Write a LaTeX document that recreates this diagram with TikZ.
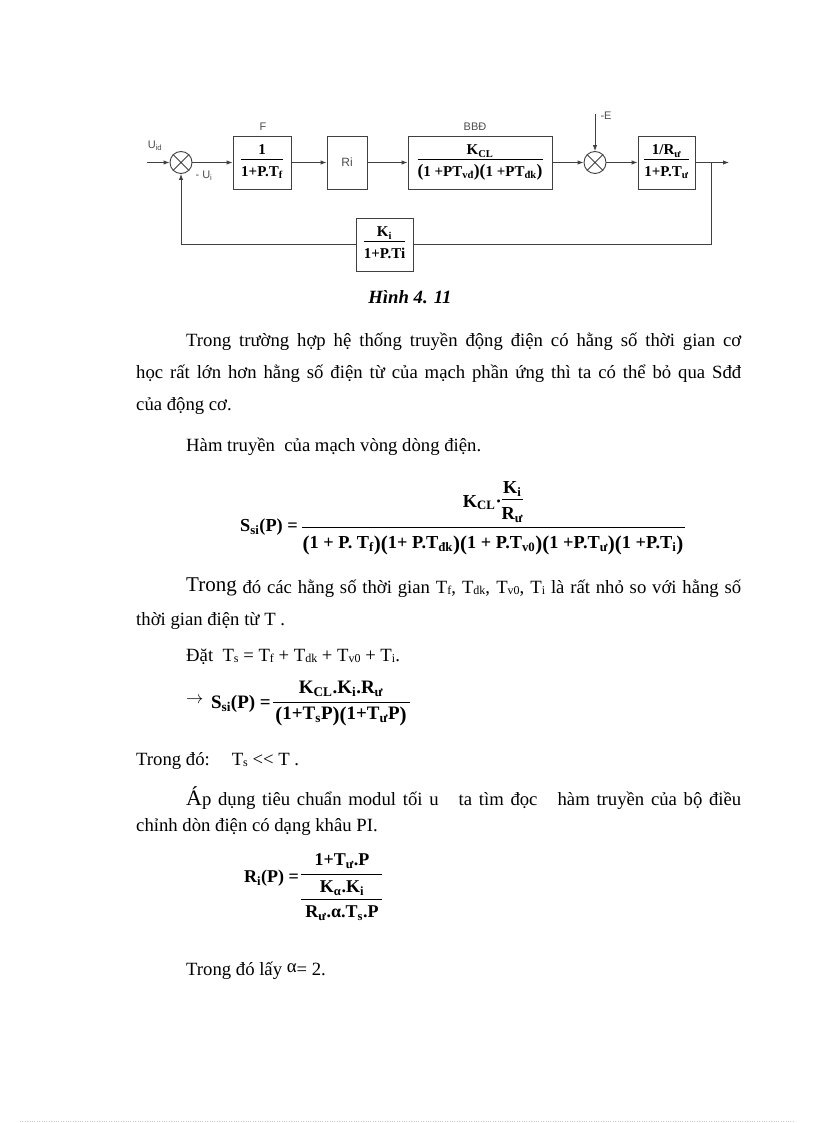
\documentclass[tikz,border=0pt]{standalone}
\usepackage{fontspec}
\setmainfont{Liberation Serif}
\newfontfamily\arialf{Liberation Sans}
\usetikzlibrary{arrows.meta}
\newcommand\fsz[1]{\fontsize{#1}{#1}\selectfont}
\newcommand\fr[2]{{\setlength\arrayrulewidth{0.8pt}\renewcommand\arraystretch{1.0}\begin{tabular}{@{}c@{}}#1\\\hline\rule{0pt}{1.05em}#2\end{tabular}}}
\newcommand\s[1]{\textsubscript{#1}}
\newcommand\sm[1]{\raisebox{-1pt}{\fsz{12}#1}}
\newcommand\bp[1]{{\fsz{21}\raisebox{-1.5pt}{#1}}}
\newcommand\bq[1]{{\fsz{17.5}\raisebox{-0.8pt}{#1}}}
\begin{document}
\begin{tikzpicture}[x=1pt,y=-1pt,
  blk/.style={draw=black!75, line width=0.9pt, inner sep=0pt, font=\bfseries\fsz{15}},
  sumj/.style={draw=black!75, line width=0.9pt, circle, minimum size=22pt, inner sep=0pt},
  ln/.style={draw=black!75, line width=0.9pt},
  arr/.style={ln, -{Latex[length=6pt,width=4.5pt]}},
  lbl/.style={font=\arialf\fsz{11}, text=black!70, inner sep=0pt},
  body/.style={font=\fsz{18.7}, inner sep=0pt, anchor=base west},
  eq/.style={font=\bfseries\fsz{18.3}, inner sep=0pt},
  bar/.style={line width=0.9pt},
]
\useasboundingbox (0,0) rectangle (816,1123);

% ---------- block diagram ----------
\node[sumj] (S1) at (181,162.5) {};
\node[sumj] (S2) at (595,162.5) {};
\draw[ln] (S1.north west) -- (S1.south east) (S1.north east) -- (S1.south west);
\draw[ln] (S2.north west) -- (S2.south east) (S2.north east) -- (S2.south west);

\node[blk, minimum width=58pt, minimum height=53pt] (F) at (262,162.5) {\fr{1}{1+P.T\s{f}}};
\node[blk, font=\arialf\fsz{12}, text=black!70, minimum width=40pt, minimum height=53pt] (Ri) at (347,162.5) {Ri};
\node[blk, minimum width=144pt, minimum height=53pt] (B) at (480,162.5) {\fr{K\s{CL}}{\bq{(}1 +PT\s{vđ}\bq{)}\bq{(}1 +PT\s{đk}\bq{)}}};
\node[blk, minimum width=57pt, minimum height=53pt] (L) at (666.5,162.5) {\fr{1/R\s{ư}}{1+P.T\s{ư}}};
\node[blk, minimum width=57pt, minimum height=53pt] (FB) at (384.5,244.5) {\fr{K\s{i}}{1+P.Ti}};

\coordinate (in) at (147,162.5);
\coordinate (out) at (729,162.5);
\coordinate (br) at (711,162.5);
\coordinate (e) at (595,114);

\draw[arr] (in) -- (S1);
\draw[arr] (S1) -- (F);
\draw[arr] (F) -- (Ri);
\draw[arr] (Ri) -- (B);
\draw[arr] (B) -- (S2);
\draw[arr] (S2) -- (L);
\draw[arr] (L) -- (out);
\draw[arr] (e) -- (S2);
\draw[ln] (br) |- (FB);
\draw[arr] (FB) -| (S1);

\node[lbl] (uid) at (155,146) {U\s{id}};
\node[lbl] (ui) at (204,176) {- U\s{i}};
\node[lbl] (fl) at (263,127) {F};
\node[lbl] (bl) at (475,127) {BBĐ};
\node[lbl] (el) at (606,116) {-E};

% ---------- caption & text ----------
\node[font=\bfseries\itshape\fsz{18.7}, inner sep=0pt] (cap) at (410,297) {Hình 4. 11};

\node[body] (p1) at (186,346) {\makebox[555pt][s]{Trong trường hợp hệ thống truyền động điện có hằng số thời gian  cơ}};
\node[body] (p2) at (136,378) {\makebox[605pt][s]{học rất lớn hơn hằng số điện từ của mạch phần ứng thì ta có thể bỏ qua Sđđ}};
\node[body] (p3) at (136,410) {của động cơ.};
\node[body] (p4) at (186,451) {Hàm truyền\ \ của mạch vòng dòng điện.};

% S_si(P) formula
\node[eq, anchor=east] (ssl) at (298,527) {S\s{si}(P) =};
\coordinate (b1l) at (302,527);
\coordinate (b1r) at (685,527);
\draw[bar] (b1l) -- (b1r);
\node[eq] (n1) at (493,503) {K\s{CL}·\fr{K\s{i}}{R\s{ư}}};
\node[eq] (d1) at (493,545) {\bp{(}1 + P. T\s{f}\bp{)}\bp{(}1+ P.T\s{đk}\bp{)}\bp{(}1 + P.T\s{v0}\bp{)}\bp{(}1 +P.T\s{ư}\bp{)}\bp{(}1 +P.T\s{i}\bp{)}};

\node[body] (q1) at (186,593) {\makebox[555pt][s]{{\fsz{21}\raisebox{2pt}{Trong}} đó các hằng số thời gian T\sm{f}, T\sm{dk}, T\sm{v0}, T\sm{i} là rất nhỏ so với hằng số}};
\node[body] (q2) at (136,625) {thời gian điện từ T .};
\node[body] (q3) at (186,661) {Đặt\ \ T\sm{s} = T\sm{f} + T\sm{dk} + T\sm{v0} + T\sm{i}.};

% arrow formula
\node[body, font=\fsz{19}] (ar) at (186,703) {$\rightarrow$};
\node[eq, font=\bfseries\fsz{19}, anchor=east] (s2l) at (271,704) {S\s{si}(P) =};
\coordinate (b2l) at (273,702);
\coordinate (b2r) at (410,702);
\draw[bar] (b2l) -- (b2r);
\node[eq, font=\bfseries\fsz{19}] (n2) at (341,689) {K\s{CL}.K\s{i}.R\s{ư}};
\node[eq, font=\bfseries\fsz{19}] (d2) at (341,716) {\bp{(}1+T\s{s}P\bp{)}\bp{(}1+T\s{ư}P\bp{)}};

\node[body] (r1) at (136,765) {Trong đó:\hspace{22pt}T\sm{s} <{}< T .};
\node[body] (r2) at (186,805) {\makebox[555pt][s]{{\fsz{22}Á}p dụng tiêu chuẩn modul tối u \ \ ta tìm đọc \ \ hàm truyền của bộ điều}};
\node[body] (r3) at (136,831) {chỉnh dòn điện có dạng khâu PI.};

% R_i(P) formula
\node[eq, font=\bfseries\fsz{18}, anchor=east] (ril) at (299,878) {R\s{i}(P) =};
\coordinate (b3l) at (301,874);
\coordinate (b3r) at (382,874);
\coordinate (b4l) at (301,899);
\coordinate (b4r) at (382,899);
\draw[bar] (b3l) -- (b3r);
\draw[bar] (b4l) -- (b4r);
\node[eq, font=\bfseries\fsz{18}] (n3) at (342,861) {1+T\s{ư}.P};
\node[eq, font=\bfseries\fsz{18}] (m3) at (342,888) {K\s{α}.K\s{i}};
\node[eq, font=\bfseries\fsz{18}] (d3) at (342,913) {R\s{ư}.α.T\s{s}.P};

\node[body] (t1) at (186,975) {Trong đó lấy \raisebox{3pt}{α}= 2.};

% faint dotted line at the bottom
\coordinate (fl1) at (20,1121);
\coordinate (fl2) at (795,1121);
\draw[gray!40, dotted] (fl1) -- (fl2);
\end{tikzpicture}
\end{document}
